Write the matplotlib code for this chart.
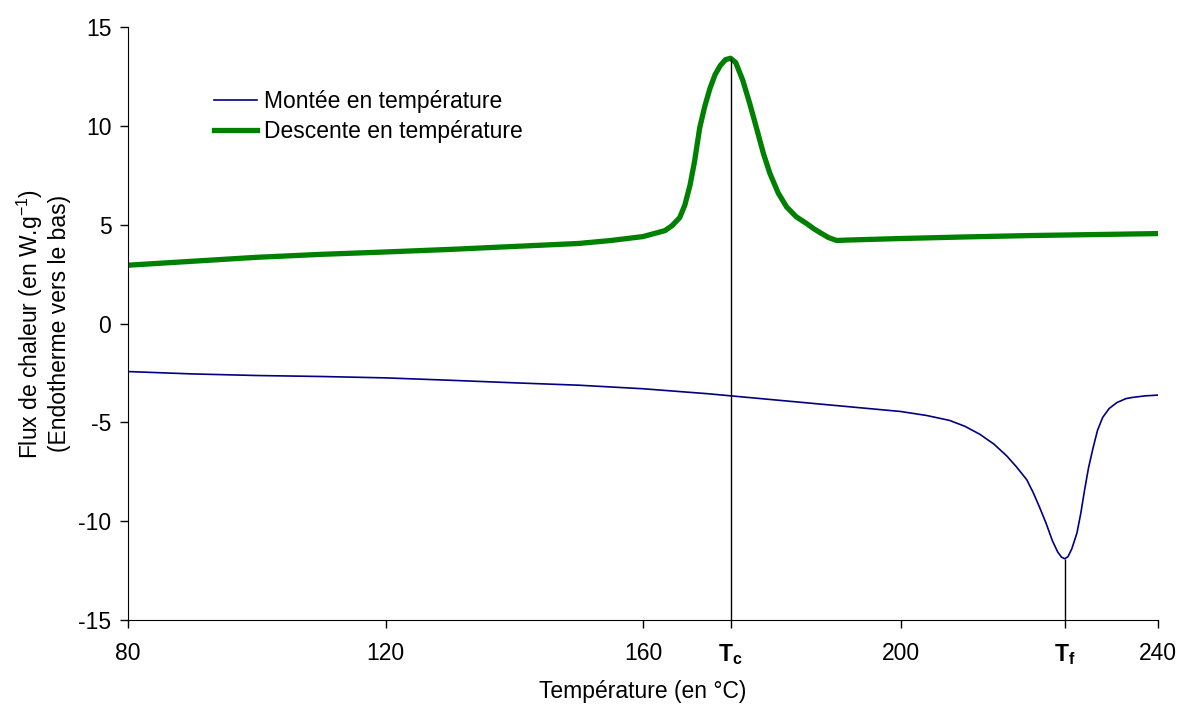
import numpy as np
import matplotlib.pyplot as plt

plt.rcParams['font.family'] = ['Liberation Sans', 'DejaVu Sans']
plt.rcParams['mathtext.fontset'] = 'custom'
plt.rcParams['mathtext.rm'] = 'Liberation Sans'
plt.rcParams['mathtext.bf'] = 'Liberation Sans:bold'
plt.rcParams['axes.unicode_minus'] = False

# courbe en montée (chauffe)
temp_up = [80, 90, 100, 110, 120, 130, 140, 150, 160, 170, 180, 190, 200,
           204, 207.6, 210, 212.3, 214.5, 216.5, 218, 219.6, 220.6, 221.6, 222.6, 223.6,
           224.4, 225, 225.5, 226, 226.6, 227.4, 228, 228.6, 229.2, 229.9, 230.6, 231.4,
           232.4, 233.6, 235, 236, 238, 240]
flux_up = [-2.43, -2.55, -2.63, -2.68, -2.75, -2.87, -3.0, -3.12, -3.3, -3.55, -3.85, -4.15, -4.45,
           -4.65, -4.9, -5.2, -5.6, -6.1, -6.7, -7.25, -7.9, -8.55, -9.3, -10.1, -11.0,
           -11.55, -11.82, -11.9, -11.8, -11.4, -10.6, -9.6, -8.4, -7.3, -6.3, -5.4, -4.75,
           -4.3, -4.0, -3.8, -3.74, -3.66, -3.62]

# courbe en descente (refroidissement)
temp_down = [80, 90, 100, 110, 120, 130, 140, 150, 155, 160, 163.4, 164.5, 165.7, 166.5, 167.3,
             168, 168.8, 169.6, 170.4, 171.2, 172, 172.8, 173.6, 174.4, 175.5, 176.6, 177.7,
             178.7, 179.7, 181, 182.3, 183.8, 185.4, 186.5, 187.5, 188.8, 190.1, 191.5,
             200, 210, 220, 230, 240]
flux_down = [2.95, 3.15, 3.35, 3.5, 3.62, 3.75, 3.9, 4.05, 4.2, 4.4, 4.7, 4.95, 5.36, 6.0, 7.0,
             8.2, 9.9, 11.0, 11.9, 12.6, 13.05, 13.35, 13.42, 13.2, 12.3, 11.1, 9.8,
             8.6, 7.6, 6.6, 5.9, 5.4, 5.06, 4.8, 4.6, 4.35, 4.2, 4.22,
             4.3, 4.38, 4.45, 4.5, 4.55]

T_c = 173.6
T_f = 225.5

fig = plt.figure(figsize=(11.8, 7.04), dpi=100)
ax = fig.add_axes([0.1085, 0.1193, 0.8729, 0.8423])

ax.plot(temp_up, flux_up, color='#000080', lw=1.2, label='Montée en température')
ax.plot(temp_down, flux_down, color='#008000', lw=3.8, label='Descente en température')

ax.vlines(T_c, -15, max(flux_down), color='black', lw=1)
ax.vlines(T_f, -15, min(flux_up), color='black', lw=1)

ax.set_xlim(80, 240)
ax.set_ylim(-15, 15)
ax.set_xticks([80, 120, 160, T_c, 200, T_f, 240])
ax.set_xticklabels(['80', '120', '160', r'$\mathbf{T_c}$', '200', r'$\mathbf{T_f}$', '240'])
ax.set_yticks(np.arange(-15, 16, 5))
ax.tick_params(direction='out', length=6, width=1, labelsize=16.5, pad=6)
ax.tick_params(axis='x', pad=10)

for side in ['top', 'right']:
    ax.spines[side].set_visible(False)

ax.set_xlabel('Température (en °C)', fontsize=16.5, labelpad=9)
ax.set_ylabel('Flux de chaleur (en W.g$^{\\mathregular{-1}}$)\n(Endotherme vers le bas)',
              fontsize=16.5, labelpad=5)

ax.legend(loc='upper left', bbox_to_anchor=(0.063, 0.928), frameon=False, fontsize=16.5,
          handlelength=1.9, handletextpad=0.3, labelspacing=0.3)

plt.savefig('out.png', dpi=100)
